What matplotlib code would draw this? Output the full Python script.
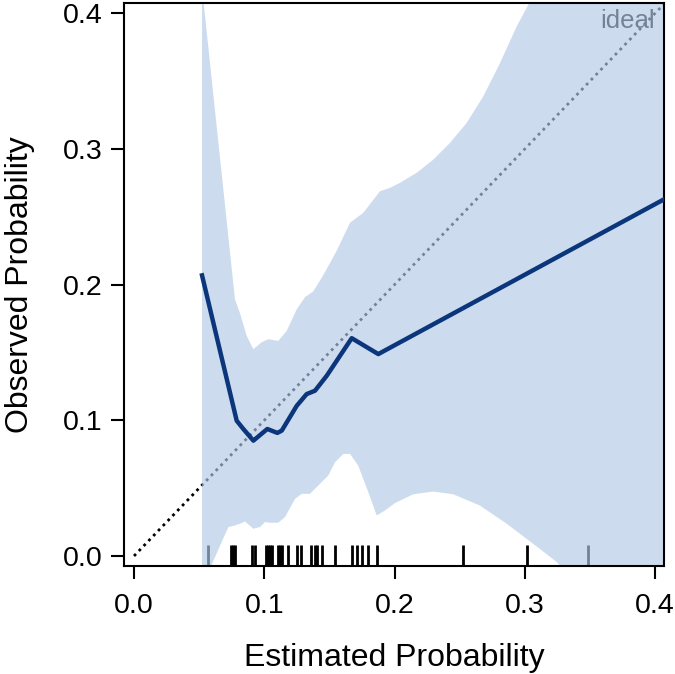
import numpy as np
import matplotlib
matplotlib.use("Agg")
import matplotlib.pyplot as plt

plt.rcParams['font.family'] = ['Liberation Sans', 'DejaVu Sans']

# apparent calibration curve
cal_x = [0.0522, 0.0788, 0.0839, 0.0916, 0.1023, 0.1100, 0.1134, 0.1249,
         0.1325, 0.1389, 0.1479, 0.1671, 0.1875, 0.4100]
cal_y = [0.2068, 0.0997, 0.0936, 0.0850, 0.0936, 0.0907, 0.0924, 0.1107,
         0.1193, 0.1218, 0.1328, 0.1605, 0.1488, 0.2645]

# upper confidence limit
up_x = [0.0522, 0.0535, 0.0775, 0.0813, 0.0865, 0.0916, 0.0980,
        0.1031, 0.1107, 0.1172, 0.1249, 0.1312, 0.1376, 0.1453, 0.1556,
        0.1658, 0.1760, 0.1888, 0.1965, 0.2041, 0.2170, 0.2297, 0.2425,
        0.2553, 0.2681, 0.2809, 0.2937, 0.3026, 0.3300, 0.4100]
up_y = [0.418, 0.407, 0.1890, 0.1790, 0.1622, 0.1524, 0.1575,
        0.1598, 0.1585, 0.1659, 0.1818, 0.1907, 0.1950, 0.2070, 0.2250,
        0.2456, 0.2529, 0.2688, 0.2713, 0.2750, 0.2824, 0.2921, 0.3044,
        0.3191, 0.3387, 0.3632, 0.3902, 0.4061, 0.4500, 0.6000]

# lower confidence limit
lo_x = [0.0522, 0.0583, 0.0622, 0.0724, 0.0775, 0.0814, 0.0852, 0.0916,
        0.0967, 0.1005, 0.1044, 0.1107, 0.1159, 0.1236, 0.1287, 0.1351,
        0.1414, 0.1491, 0.1543, 0.1606, 0.1658, 0.1721, 0.1798, 0.1863,
        0.1926, 0.2003, 0.2144, 0.2297, 0.2450, 0.2655, 0.2860, 0.3064,
        0.3244, 0.3600, 0.4100]
lo_y = [-0.050, -0.0093, -0.0007, 0.0213, 0.0225, 0.0238, 0.0254, 0.0201,
        0.0213, 0.0250, 0.0245, 0.0245, 0.0287, 0.0421, 0.0458, 0.0458,
        0.0519, 0.0593, 0.0691, 0.0752, 0.0752, 0.0666, 0.0471, 0.0299,
        0.0335, 0.0390, 0.0455, 0.0475, 0.0455, 0.0372, 0.0238, 0.0090,
        -0.0044, -0.040, -0.090]

# rug of estimated probabilities
rug = [0.0566, 0.0744, 0.0762, 0.0775, 0.0903, 0.0929, 0.1011, 0.1026,
       0.1044, 0.1061, 0.1103, 0.1120, 0.1134, 0.1180, 0.1249, 0.1282,
       0.1358, 0.1389, 0.1402, 0.1445, 0.1543, 0.1671, 0.1709, 0.1748,
       0.1794, 0.1863, 0.2527, 0.3014, 0.3487]

ticks = [0.0, 0.1, 0.2, 0.3, 0.4]

fig = plt.figure(figsize=(6.75, 6.74), dpi=100)
ax = fig.add_axes([0.1837, 0.1602, 0.8000, 0.8349])

ax.plot([0, 0.45], [0, 0.45], color='black', linestyle=(0, (1, 1.5)),
        linewidth=2.0, zorder=1)
ax.text(0.400, 0.389, 'ideal', ha='right', va='baseline', fontsize=18.5,
        color='black', zorder=1)
ax.vlines(rug, 0, 0.038, transform=ax.get_xaxis_transform(),
          color='black', linewidth=2.0, zorder=1)

ax.fill(np.r_[up_x, lo_x[::-1]], np.r_[up_y, lo_y[::-1]],
        color='#b2c9e5', alpha=0.65, linewidth=0, zorder=2)

ax.plot(cal_x, cal_y, color='#0b367c', linewidth=3.2, zorder=3)

ax.set_xlim(-0.0077, 0.4068)
ax.set_ylim(-0.0074, 0.4073)
ax.set_xticks(ticks)
ax.set_yticks(ticks)
ax.set_xticklabels([f'{t:.1f}' for t in ticks])
ax.set_yticklabels([f'{t:.1f}' for t in ticks])
ax.tick_params(direction='out', length=9.5, width=1.5, labelsize=20.5)
ax.tick_params(axis='x', pad=10)
ax.tick_params(axis='y', pad=6)
for s in ax.spines.values():
    s.set_linewidth(1.5)

ax.set_xlabel('Estimated Probability', fontsize=23, labelpad=17)
ax.set_ylabel('Observed Probability', fontsize=23, labelpad=20)

fig.savefig('out.png', dpi=100)
